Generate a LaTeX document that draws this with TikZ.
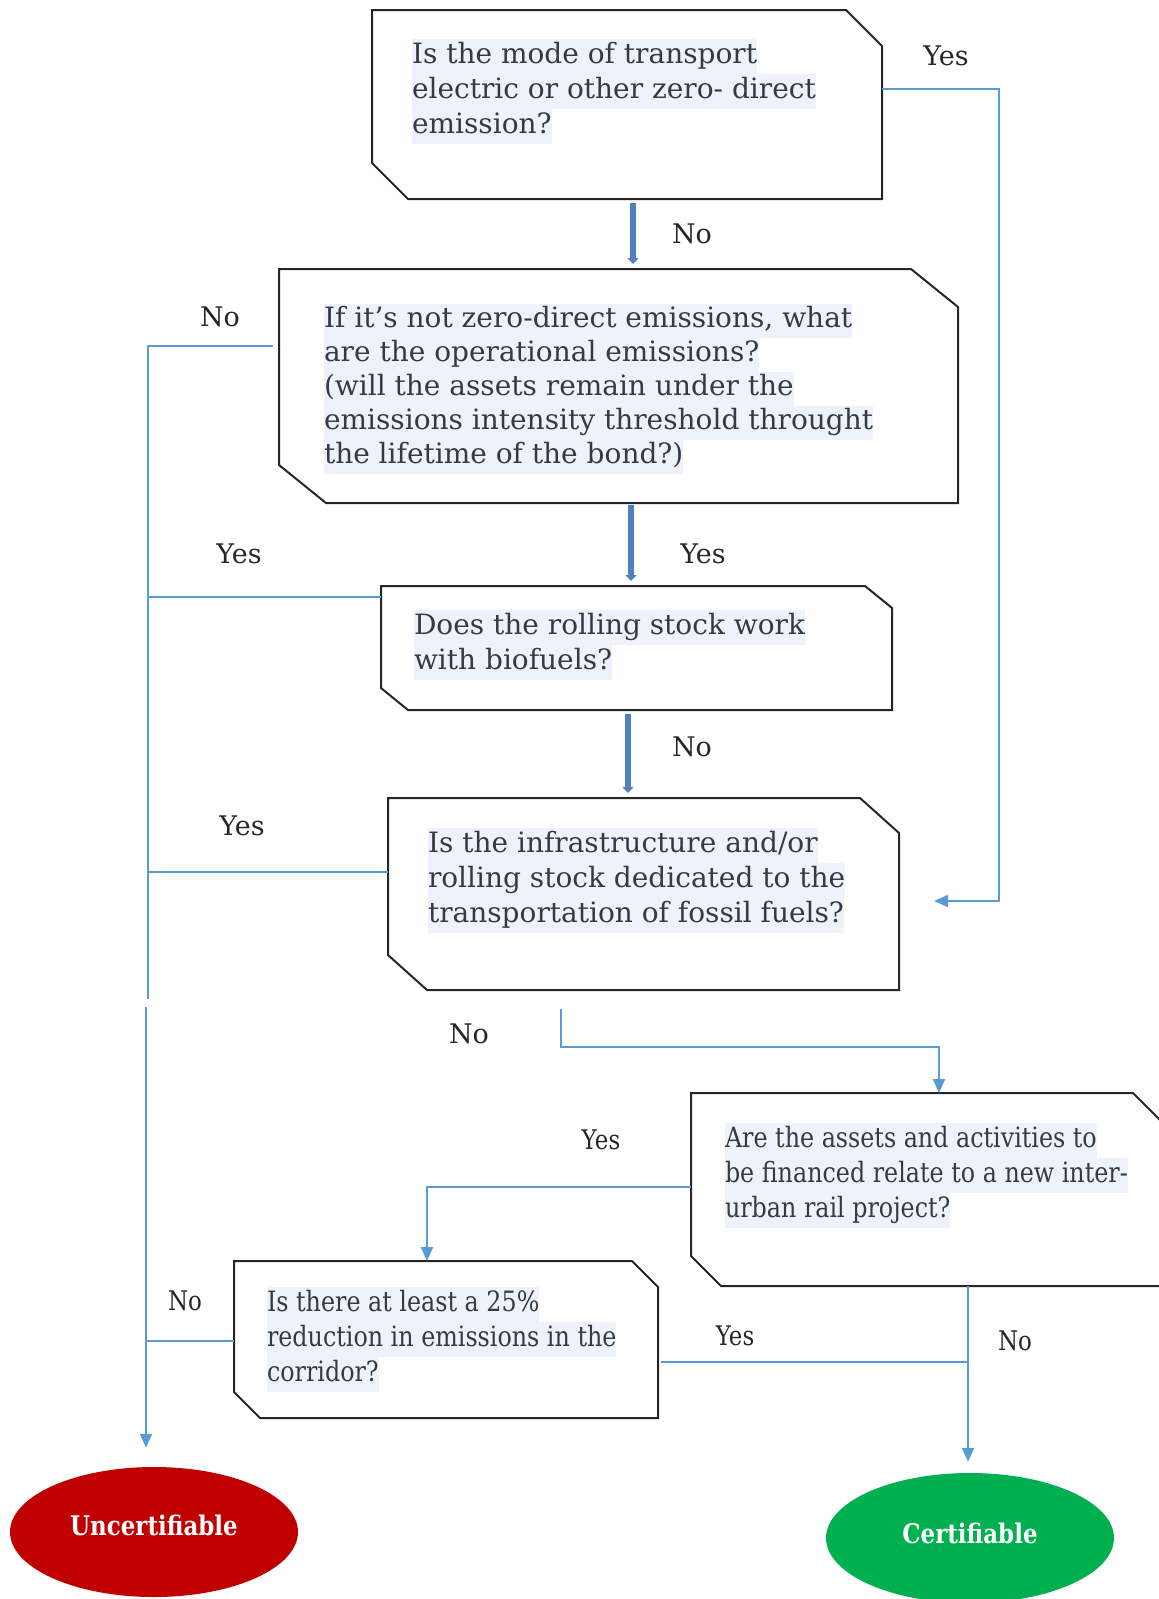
\documentclass[tikz,border=0pt]{standalone}
\usepackage{fontspec}
\setmainfont{DejaVu Serif}
\newfontfamily\narrowfont[FakeStretch=0.85]{DejaVu Serif}
\usetikzlibrary{arrows.meta,calc,shapes.geometric}

\definecolor{linkblue}{HTML}{5B9BD5}
\definecolor{stemblue}{HTML}{4F81BD}
\definecolor{hlblue}{HTML}{EEF3FB}
\definecolor{qtext}{HTML}{353A45}
\definecolor{nored}{HTML}{C00000}
\definecolor{okgreen}{HTML}{00B050}

\setlength{\fboxsep}{0pt}
\newcommand{\hlline}[1]{\colorbox{hlblue}{\strut #1}}
% outline with the top right and bottom left corners cut off
\newcommand{\snip}[3]{%
  \draw[boxline] (#1.north west) -- ($(#1.north east)+(-#2,0)$) -- ($(#1.north east)+(0,#3)$)
    -- (#1.south east) -- ($(#1.south west)+(#2,0)$) -- ($(#1.south west)+(0,-#3)$) -- cycle;}

\tikzset{
  query/.style={anchor=north west, inner sep=0pt, outer sep=0pt, text=qtext,
    font=\fontsize{28}{35}\selectfont},
  nquery/.style={query, font=\narrowfont\fontsize{28}{35}\selectfont},
  boxline/.style={draw=black!85, line width=2pt, line join=miter},
  lab/.style={inner sep=0pt, text=black!85, font=\fontsize{27}{33}\selectfont},
  nlab/.style={lab, font=\narrowfont\fontsize{27}{33}\selectfont},
  flow/.style={draw=linkblue, line width=2pt},
  flowarrow/.style={flow, -{Triangle[length=14pt,width=12pt]}},
  stem/.style={draw=stemblue, line width=5.5pt, -{Triangle[length=6pt,width=11pt]}},
  endnode/.style={ellipse, minimum width=288pt, minimum height=130pt, text=white,
    font=\narrowfont\bfseries\fontsize{27}{32}\selectfont}
}

\begin{document}
\begin{tikzpicture}[x=1pt, y=-1pt]
  \useasboundingbox (0,0) rectangle (1159,1599);

  % questions
  \node[query, inner xsep=40pt, inner ysep=25pt] (q1) at (372,10) {\parbox[c][139pt][t]{430pt}{%
    \vspace*{4pt}
    \hlline{Is the mode of transport}\\
    \hlline{electric or other zero- direct}\\
    \hlline{emission?}}};
  \node[query, inner xsep=45pt, inner ysep=30pt] (q2) at (279,269) {\parbox[c][174pt][t]{589pt}{%
    \fontsize{28}{34}\selectfont\vspace*{5pt}
    \hlline{If it’s not zero-direct emissions, what}\\
    \hlline{are the operational emissions?}\\
    \hlline{(will the assets remain under the}\\
    \hlline{emissions intensity threshold throught}\\
    \hlline{the lifetime of the bond?)}}};
  \node[query, inner xsep=33pt, inner ysep=20pt] (q3) at (381,586) {\parbox[c][84pt][t]{445pt}{%
    \vspace*{4pt}
    \hlline{Does the rolling stock work}\\
    \hlline{with biofuels?}}};
  \node[query, inner xsep=40pt, inner ysep=26pt] (q4) at (388,798) {\parbox[c][140pt][t]{431pt}{%
    \vspace*{4pt}
    \hlline{Is the infrastructure and/or}\\
    \hlline{rolling stock dedicated to the}\\
    \hlline{transportation of fossil fuels?}}};
  \node[nquery, inner xsep=34pt, inner ysep=26pt] (q5) at (691,1093) {\parbox[c][141pt][t]{404pt}{%
    \vspace*{4pt}
    \hlline{Are the assets and activities to}\\
    \hlline{be financed relate to a new inter-}\\
    \hlline{urban rail project?}}};
  \node[nquery, inner xsep=33pt, inner ysep=22pt] (q6) at (234,1261) {\parbox[c][113pt][t]{358pt}{%
    \vspace*{4pt}
    \hlline{Is there at least a 25\%}\\
    \hlline{reduction in emissions in the}\\
    \hlline{corridor?}}};

  \snip{q1}{36}{36}
  \snip{q2}{47}{38}
  \snip{q3}{27}{22}
  \snip{q4}{39}{35}
  \snip{q5}{30}{30}
  \snip{q6}{26}{26}

  % outcomes
  \node[endnode, fill=nored, text depth=14pt] (unc) at (154,1532) {Uncertifiable};
  \node[endnode, fill=okgreen, text depth=10pt] (cert) at (970,1538) {Certifiable};

  % main line
  \draw[stem, shorten <=4pt, shorten >=5pt] (q1.south -| 633,0) -- (q2.north -| 633,0);
  \draw[stem, shorten <=2pt, shorten >=5pt] (q2.south -| 631,0) -- (q3.north -| 631,0);
  \draw[stem, shorten <=4pt, shorten >=5pt] (q3.south -| 628,0) -- (q4.north -| 628,0);

  % connectors
  \coordinate (yesend) at (934,901);
  \draw[flowarrow] (q1.east |- 0,89) -| (yesend -| 999,0) -- (yesend);

  \coordinate (trunk) at (148,999);
  \draw[flow, shorten <=6pt] (q2.west |- 0,346) -| (trunk);
  \draw[flow] (q3.west |- 0,597) -- (trunk |- 0,597);
  \draw[flow] (q4.west |- 0,872) -- (trunk |- 0,872);

  \coordinate (drop) at (146,1007);
  \draw[flowarrow, shorten >=19pt] (drop) -- (unc.north -| drop);
  \draw[flow] (q6.west |- 0,1341) -- (drop |- 0,1341);

  \draw[flowarrow, shorten <=19pt] (q4.south -| 561,0) |- (939,1047) -- (q5.north -| 939,0);
  \draw[flowarrow] (q5.west |- 0,1187) -| (q6.north -| 427,0);

  \coordinate (join) at (968,1362);
  \draw[flow, shorten <=3pt] (q6.east |- join) -- (join);
  \draw[flowarrow, shorten >=11pt] (q5.south -| join) -- (cert.north -| join);

  % labels
  \node[lab] (yes1) at (946,56) {Yes};
  \node[lab] (no1) at (692,234) {No};
  \node[lab] (no2) at (220,317) {No};
  \node[lab] (yes2) at (239,554) {Yes};
  \node[lab] (yes3) at (703,554) {Yes};
  \node[lab] (no3) at (692,747) {No};
  \node[lab] (yes4) at (242,826) {Yes};
  \node[lab] (no4) at (469,1034) {No};
  \node[nlab] (yes5) at (601,1140) {Yes};
  \node[nlab] (no5) at (185,1301) {No};
  \node[nlab] (yes6) at (735,1336) {Yes};
  \node[nlab] (no6) at (1015,1341) {No};
\end{tikzpicture}
\end{document}
